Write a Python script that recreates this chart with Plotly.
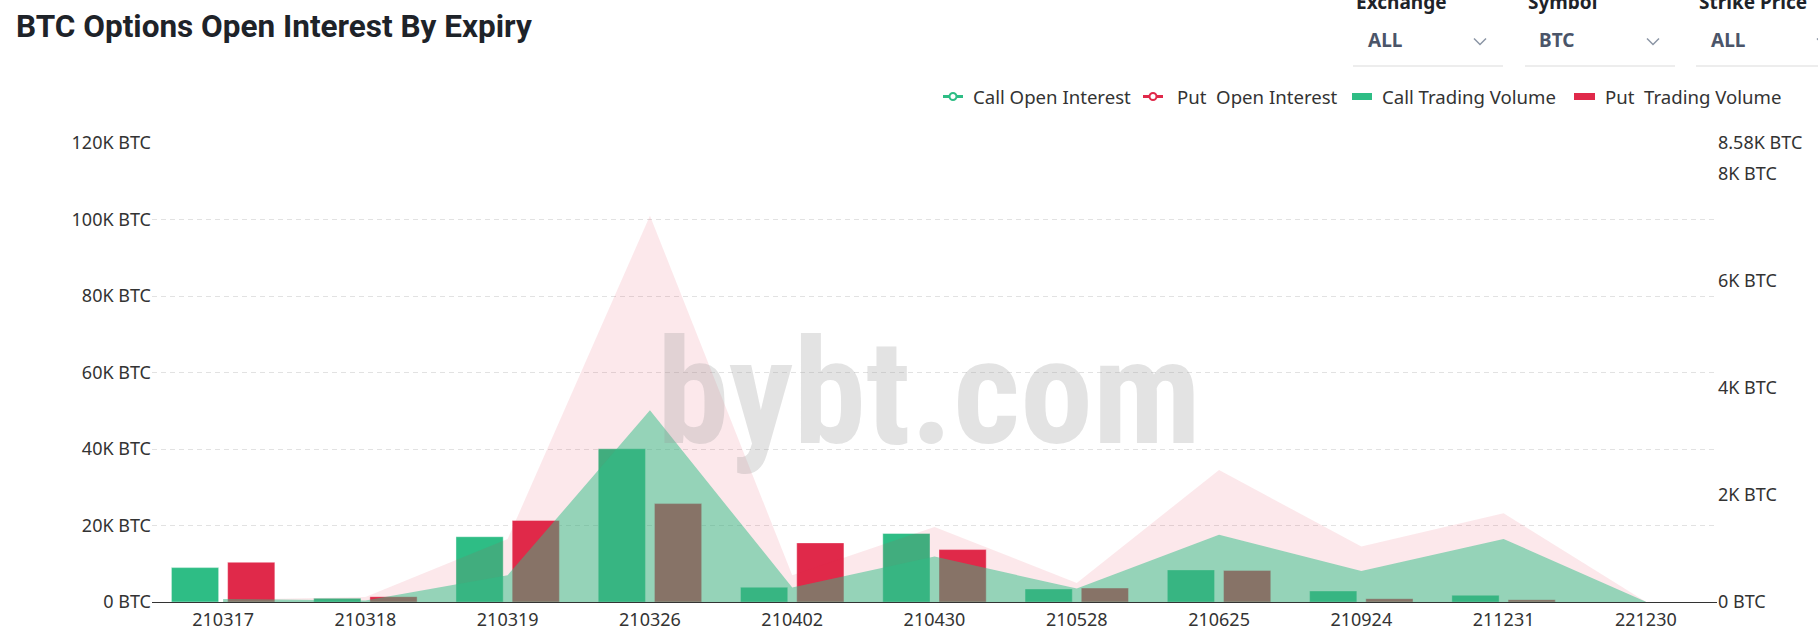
import plotly.graph_objects as go

# ---------------- data ----------------
expiries = ["210317", "210318", "210319", "210326", "210402", "210430",
            "210528", "210625", "210924", "211231", "221230"]
call_oi = [800, 400, 7000, 50100, 3800, 11900, 3500, 17600, 8100, 16500, 50]
put_oi = [600, 1300, 16500, 101000, 7000, 19600, 5000, 34500, 14500, 23200, 50]
call_vol = [643, 69, 1220, 2865, 274, 1280, 243, 600, 205, 124, 0]
put_vol = [742, 100, 1525, 1840, 1105, 980, 260, 590, 62, 44, 0]

oi_ticks = [0, 20000, 40000, 60000, 80000, 100000, 120000]
oi_tick_text = ["0 BTC", "20K BTC", "40K BTC", "60K BTC", "80K BTC", "100K BTC", "120K BTC"]
vol_ticks = [0, 2000, 4000, 6000, 8000, 8580]
vol_tick_text = ["0 BTC", "2K BTC", "4K BTC", "6K BTC", "8K BTC", "8.58K BTC"]

legend_labels = ["Call Open Interest", "Put\u00a0 Open Interest",
                 "Call Trading Volume", "Put\u00a0 Trading Volume"]

GREEN = "#2ebd85"
RED = "#e0294a"

W, H = 1818, 639
L, R, T, B = 152, 1717, 143, 602


def px(xp):
    return (xp - L) / (R - L)


def py(yp):
    return (B - yp) / (B - T)


FONT = "Noto Sans, Open Sans, DejaVu Sans, sans-serif"

fig = go.Figure()

fig.add_trace(go.Bar(x=expiries, y=call_vol, name=legend_labels[2], yaxis="y",
                     marker=dict(color=GREEN, line=dict(color="rgba(255,255,255,0.4)", width=1)),
                     showlegend=False))
fig.add_trace(go.Bar(x=expiries, y=put_vol, name=legend_labels[3], yaxis="y",
                     marker=dict(color=RED, line=dict(color="rgba(255,255,255,0.4)", width=1)),
                     showlegend=False))
fig.add_trace(go.Scatter(x=expiries, y=put_oi, name=legend_labels[1], yaxis="y2",
                         mode="lines", line=dict(width=0, color=RED),
                         fill="tozeroy", fillcolor="rgba(224,41,74,0.11)", showlegend=False))
fig.add_trace(go.Scatter(x=expiries, y=call_oi, name=legend_labels[0], yaxis="y2",
                         mode="lines", line=dict(width=0, color=GREEN),
                         fill="tozeroy", fillcolor="rgba(46,189,133,0.5)", showlegend=False))

shapes = []
annotations = []

# title
annotations.append(dict(text="<b>BTC Options Open Interest By Expiry</b>", x=px(14), y=py(26.5),
                        xref="paper", yref="paper", xanchor="left", yanchor="middle",
                        showarrow=False, font=dict(family="Roboto, sans-serif", size=31.5, color="#1e2329")))

# dropdown controls
dd_labels = ["Exchange", "Symbol", "Strike Price"]
dd_values = ["ALL", "BTC", "ALL"]
dd_label_x = [1354, 1526, 1697]
dd_value_x = [1366, 1537, 1709]
dd_chev_x = [1480, 1653, 1823]
dd_line = [(1353, 1503), (1525, 1675), (1696, 1830)]
for lab, val, lx, vx, cx, (u0, u1) in zip(dd_labels, dd_values, dd_label_x, dd_value_x, dd_chev_x, dd_line):
    annotations.append(dict(text="<b>%s</b>" % lab, x=px(lx), y=py(2), xref="paper", yref="paper",
                            xanchor="left", yanchor="middle", showarrow=False,
                            font=dict(family=FONT, size=19, color="#1e2329")))
    annotations.append(dict(text="<b>%s</b>" % val, x=px(vx), y=py(40), xref="paper", yref="paper",
                            xanchor="left", yanchor="middle", showarrow=False,
                            font=dict(family=FONT, size=19, color="#4b5569")))
    shapes.append(dict(type="path", xref="paper", yref="paper",
                       path="M %f %f L %f %f L %f %f" % (px(cx - 6), py(38.5), px(cx), py(44.5), px(cx + 6), py(38.5)),
                       line=dict(color="#8b95a5", width=1.5)))
    shapes.append(dict(type="line", xref="paper", yref="paper", x0=px(u0), x1=px(u1), y0=py(66), y1=py(66),
                       line=dict(color="#dcdcdc", width=1.2)))

# custom legend
LY = 96.5
for cx, col in [(953, GREEN), (1153, RED)]:
    shapes.append(dict(type="line", xref="paper", yref="paper", x0=px(cx - 10), x1=px(cx + 10),
                       y0=py(LY), y1=py(LY), line=dict(color=col, width=3)))
    shapes.append(dict(type="circle", xref="paper", yref="paper", x0=px(cx - 3.5), x1=px(cx + 3.5),
                       y0=py(LY - 3.5), y1=py(LY + 3.5), fillcolor="white", line=dict(color=col, width=2)))
for x0, x1, col in [(1352, 1372, GREEN), (1574, 1595, RED)]:
    shapes.append(dict(type="rect", xref="paper", yref="paper", x0=px(x0), x1=px(x1),
                       y0=py(LY - 3.5), y1=py(LY + 3.5), fillcolor=col, line=dict(width=0)))
for txt, tx in zip(legend_labels, [971, 1175, 1380, 1603]):
    annotations.append(dict(text=txt, x=px(tx), y=py(LY - 0.5), xref="paper", yref="paper",
                            xanchor="left", yanchor="middle", showarrow=False,
                            font=dict(family=FONT, size=18.6, color="#333333")))

# watermark
annotations.append(dict(text="<b>bybt.com</b>", x=px(929), y=py(393), xref="paper", yref="paper",
                        xanchor="center", yanchor="middle", showarrow=False,
                        font=dict(family="Roboto Condensed, Liberation Sans Narrow, DejaVu Sans Condensed, sans-serif",
                                  size=146, color="rgba(150,150,150,0.27)")))

fig.update_layout(
    width=W, height=H,
    margin=dict(l=L, r=W - R, t=T, b=H - B, pad=0, autoexpand=False),
    paper_bgcolor="white", plot_bgcolor="white",
    barmode="group", bargap=0.21, bargroupgap=0.16,
    showlegend=False,
    font=dict(family=FONT, size=18, color="#333333"),
    xaxis=dict(type="category", showgrid=False, showline=True, linecolor="#333333", linewidth=1,
               ticks="", tickfont=dict(size=18, color="#333333"), zeroline=False, automargin=False,
               ticklabelstandoff=1, range=[-0.5, len(expiries) - 0.5]),
    yaxis=dict(side="right", range=[0, 8580], tickvals=vol_ticks, ticktext=vol_tick_text,
               showgrid=False, zeroline=False, showline=False, ticks="", automargin=False,
               tickfont=dict(size=18, color="#333333")),
    yaxis2=dict(side="left", overlaying="y", range=[0, 120000], tickvals=oi_ticks, ticktext=oi_tick_text,
                showgrid=True, gridcolor="#e2e2e2", griddash="5px,4px", gridwidth=1,
                zeroline=False, showline=False, ticks="", automargin=False,
                tickfont=dict(size=18, color="#333333")),
    shapes=shapes,
    annotations=annotations,
)

fig.write_html("out.html", config={"displayModeBar": False},
               post_script="document.body.style.margin='0';")
